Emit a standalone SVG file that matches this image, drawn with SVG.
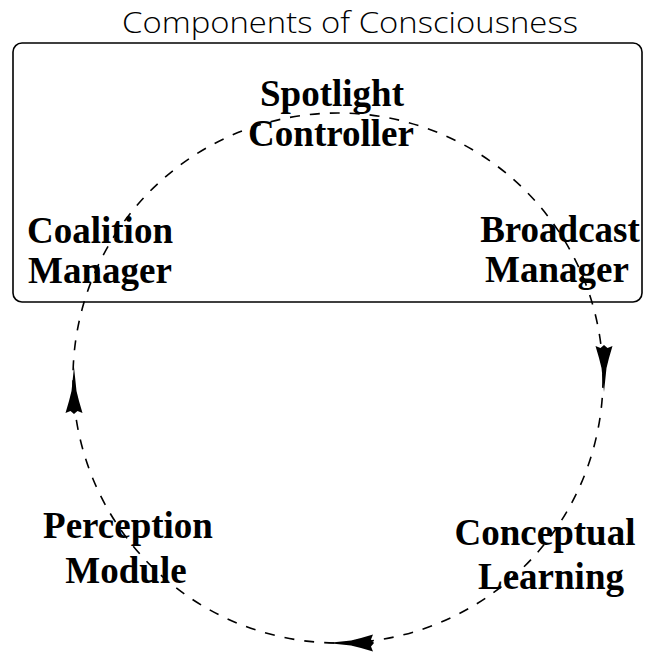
<svg xmlns="http://www.w3.org/2000/svg" width="645" height="652" viewBox="0 0 645 652">
<style>
.lbl{font-family:"Liberation Serif","Times New Roman",serif;font-weight:bold;font-size:37px;fill:#000;text-anchor:middle}
.title{font-family:"Open Sans","DejaVu Sans",sans-serif;font-weight:300;font-size:29px;fill:#000}
.cyc{fill:none;stroke:#000;stroke-width:1.6;stroke-dasharray:10 10}
.arr{fill:#000;stroke:none}
</style>
<defs>
<path id="ah" d="M0,0 L-24,-2.5 L-34,-5 L-46,-8.5 L-44,-3.5 L-47,0 L-44,3.5 L-46,8.5 L-34,5 L-24,2.5 Z"/>
</defs>
<rect width="645" height="652" fill="#fff"/>
<g id="container">
<rect x="13" y="43" width="629" height="259" rx="9" fill="none" stroke="#000" stroke-width="1.6"/>
<text class="title" x="122" y="33" textLength="456" lengthAdjust="spacingAndGlyphs">Components of Consciousness</text>
</g>
<g id="connectors">
<circle class="cyc" cx="338" cy="378" r="265"/>
<use href="#ah" class="arr" transform="translate(74,367) rotate(-90)"/>
<use href="#ah" class="arr" transform="translate(604,392) rotate(90)"/>
<use href="#ah" class="arr" transform="translate(327,643) rotate(180)"/>
</g>
<g id="spotlight-controller">
<text class="lbl" x="332" y="106">Spotlight</text>
<text class="lbl" x="331" y="146">Controller</text>
</g>
<g id="coalition-manager">
<text class="lbl" x="100" y="243">Coalition</text>
<text class="lbl" x="100" y="283">Manager</text>
</g>
<g id="broadcast-manager">
<text class="lbl" x="560" y="242">Broadcast</text>
<text class="lbl" x="557" y="282">Manager</text>
</g>
<g id="perception-module">
<text class="lbl" x="128" y="538">Perception</text>
<text class="lbl" x="126" y="583">Module</text>
</g>
<g id="conceptual-learning">
<text class="lbl" x="545" y="545">Conceptual</text>
<text class="lbl" x="551" y="589">Learning</text>
</g>
</svg>
